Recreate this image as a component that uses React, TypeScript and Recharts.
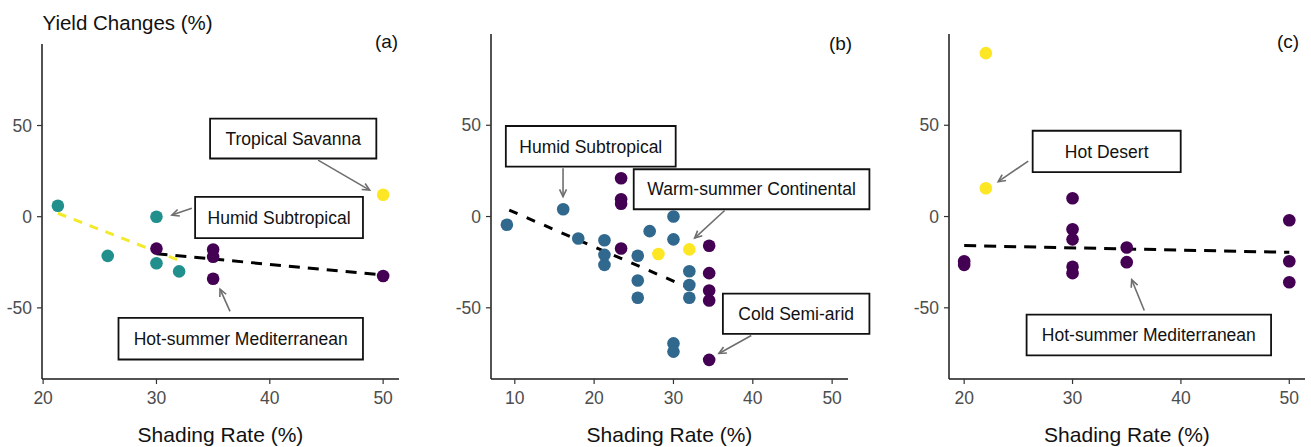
import React from 'react';
import { ComposedChart, Scatter, Line, XAxis, YAxis, ReferenceArea, ReferenceLine, Label } from 'recharts';

const FONT = '"Liberation Sans", Arial, Helvetica, sans-serif';
const PURPLE = '#440154';
const TEAL = '#21908C';
const BLUE = '#31688E';
const YELLOW = '#FDE725';

// ---------- Panel (a) data ----------
const aTeal = [
  { x: 21.3, y: 6 }, { x: 25.7, y: -21.5 }, { x: 30, y: 0 }, { x: 30, y: -25.5 }, { x: 32, y: -30 },
];
const aPurple = [
  { x: 30, y: -17.5 }, { x: 35, y: -18 }, { x: 35, y: -22 }, { x: 35, y: -34 }, { x: 50, y: -32.5 },
];
const aYellow = [{ x: 50, y: 12 }];
const aFitTeal = [{ x: 21.3, y: 1.9 }, { x: 31.9, y: -23.7 }];
const aFitPurple = [{ x: 30, y: -20.3 }, { x: 50, y: -32 }];

// ---------- Panel (b) data ----------
const bBlue = [
  { x: 9, y: -4.5 }, { x: 16.1, y: 4 }, { x: 18, y: -12 },
  { x: 21.3, y: -13 }, { x: 21.3, y: -21 }, { x: 21.3, y: -26.5 },
  { x: 25.5, y: -21.5 }, { x: 25.5, y: -35 }, { x: 25.5, y: -44.5 },
  { x: 27, y: -8 },
  { x: 30, y: 0 }, { x: 30, y: -12.5 }, { x: 30, y: -69.5 }, { x: 30, y: -74 },
  { x: 32, y: -30 }, { x: 32, y: -37.5 }, { x: 32, y: -44.5 },
];
const bPurple = [
  { x: 23.4, y: 21 }, { x: 23.4, y: 9.5 }, { x: 23.4, y: 7 }, { x: 23.4, y: -17.5 },
  { x: 34.5, y: -16 }, { x: 34.5, y: -31 }, { x: 34.5, y: -40.5 }, { x: 34.5, y: -46 }, { x: 34.5, y: -78.5 },
];
const bYellow = [{ x: 28.1, y: -20.5 }, { x: 32, y: -18 }];
const bFitBlue = [{ x: 9.3, y: 3.5 }, { x: 31.5, y: -38.2 }];

// ---------- Panel (c) data ----------
const cYellow = [{ x: 22, y: 89.5 }, { x: 22, y: 15.5 }];
const cPurple = [
  { x: 20, y: -24.5 }, { x: 20, y: -26.5 },
  { x: 30, y: 10 }, { x: 30, y: -7 }, { x: 30, y: -12.5 }, { x: 30, y: -27.5 }, { x: 30, y: -31 },
  { x: 35, y: -17 }, { x: 35, y: -25 },
  { x: 50, y: -2 }, { x: 50, y: -24.5 }, { x: 50, y: -36 },
];
const cFitPurple = [{ x: 20, y: -15.9 }, { x: 50, y: -19.6 }];

const yTicks = [-50, 0, 50];
const xTicksA = [20, 30, 40, 50];
const xTicksB = [10, 20, 30, 40, 50];
const xTicksC = [20, 30, 40, 50];

// ---------- annotations (data coordinates) ----------
const aBoxes = [
  { text: 'Tropical Savanna', x1: 34.73, x2: 49.4, y1: 31.9, y2: 53.8 },
  { text: 'Humid Subtropical', x1: 33.41, x2: 48.22, y1: -11.8, y2: 10.9 },
  { text: 'Hot-summer Mediterranean', x1: 26.65, x2: 48.22, y1: -78.3, y2: -55.5 },
];
const aArrows = [
  { from: { x: 44.26, y: 31.0 }, to: { x: 48.81, y: 14.6 } },
  { from: { x: 33.12, y: 4.6 }, to: { x: 31.36, y: 0.9 } },
  { from: { x: 36.49, y: -51.9 }, to: { x: 35.61, y: -39.7 } },
];
const bBoxes = [
  { text: 'Humid Subtropical', x1: 8.87, x2: 30.28, y1: 27.3, y2: 49.6 },
  { text: 'Warm-summer Continental', x1: 24.99, x2: 54.7, y1: 4.0, y2: 25.9 },
  { text: 'Cold Semi-arid', x1: 36.23, x2: 54.7, y1: -64.3, y2: -42.2 },
];
const bArrows = [
  { from: { x: 16.08, y: 26.4 }, to: { x: 16.08, y: 10.9 } },
  { from: { x: 36.45, y: 3.3 }, to: { x: 32.67, y: -11.8 } },
  { from: { x: 39.81, y: -65.2 }, to: { x: 35.73, y: -75.0 } },
];
const cBoxes = [
  { text: 'Hot Desert', x1: 26.32, x2: 39.98, y1: 24.3, y2: 47.0 },
  { text: 'Hot-summer Mediterranean', x1: 25.76, x2: 48.32, y1: -76.1, y2: -53.7 },
];
const cArrows = [
  { from: { x: 25.91, y: 30.4 }, to: { x: 23.14, y: 19.1 } },
  { from: { x: 36.62, y: -51.5 }, to: { x: 35.46, y: -34.6 } },
];

const dotShape = (color: string) => (props: any) => (
  <circle cx={props.cx} cy={props.cy} r={6.3} fill={color} />
);

const arrowShape = (props: any) => {
  const { x1, y1, x2, y2 } = props;
  const ang = Math.atan2(y2 - y1, x2 - x1);
  const L = 8;
  const a = Math.PI / 7;
  const p1x = x2 - L * Math.cos(ang - a);
  const p1y = y2 - L * Math.sin(ang - a);
  const p2x = x2 - L * Math.cos(ang + a);
  const p2y = y2 - L * Math.sin(ang + a);
  return (
    <g>
      <line x1={x1} y1={y1} x2={x2} y2={y2} stroke="#6e6e6e" strokeWidth={1.6} />
      <polyline points={`${p1x},${p1y} ${x2},${y2} ${p2x},${p2y}`} fill="none" stroke="#6e6e6e" strokeWidth={1.6} />
    </g>
  );
};

type Series = { data: { x: number; y: number }[]; color: string };
type Fit = { data: { x: number; y: number }[]; color: string; dash: string };

interface PanelProps {
  left: number;
  width: number;
  top: number;
  right: number;
  yWidth: number;
  xDomain: [number, number];
  yDomain: [number, number];
  xTicks: number[];
  series: Series[];
  fits: Fit[];
  boxes: { text: string; x1: number; x2: number; y1: number; y2: number }[];
  arrows: { from: { x: number; y: number }; to: { x: number; y: number } }[];
}

function Panel(p: PanelProps) {
  const tickStyle = { fill: '#4D4D4D', fontSize: 17.5, fontFamily: FONT };
  return (
    <div style={{ position: 'absolute', left: p.left, top: 0 }}>
      <ComposedChart
        width={p.width}
        height={447}
        margin={{ top: p.top, right: p.right, bottom: 0, left: 0 }}
        style={{ fontFamily: FONT }}
      >
        <XAxis
          type="number"
          dataKey="x"
          domain={p.xDomain}
          ticks={p.xTicks}
          allowDataOverflow
          height={68}
          tickSize={5}
          tickMargin={8}
          axisLine={{ stroke: '#1a1a1a', strokeWidth: 1.5 }}
          tickLine={{ stroke: '#333', strokeWidth: 1.2 }}
          tick={tickStyle}
        >
          <Label value="Shading Rate (%)" position="insideBottom" offset={5} fill="#111" fontSize={21} fontFamily={FONT} />
        </XAxis>
        <YAxis
          type="number"
          dataKey="y"
          domain={p.yDomain}
          ticks={yTicks}
          allowDataOverflow
          width={p.yWidth}
          tickSize={5}
          tickMargin={5}
          axisLine={{ stroke: '#1a1a1a', strokeWidth: 1.5 }}
          tickLine={{ stroke: '#333', strokeWidth: 1.2 }}
          tick={tickStyle}
        />
        {p.fits.map((f, i) => (
          <Line
            key={'fit' + i}
            data={f.data}
            dataKey="y"
            stroke={f.color}
            strokeWidth={3}
            strokeDasharray={f.dash}
            dot={false}
            activeDot={false}
            isAnimationActive={false}
            legendType="none"
          />
        ))}
        {p.series.map((s, i) => (
          <Scatter
            key={'s' + i}
            data={s.data}
            dataKey="y"
            fill={s.color}
            shape={dotShape(s.color)}
            isAnimationActive={false}
          />
        ))}
        {p.boxes.map((b, i) => (
          <ReferenceArea
            key={'b' + i}
            x1={b.x1}
            x2={b.x2}
            y1={b.y1}
            y2={b.y2}
            ifOverflow="visible"
            fill="#ffffff"
            fillOpacity={1}
            stroke="#111"
            strokeWidth={1.8}
            label={{ value: b.text, position: 'center', fill: '#111', fontSize: 17.5, fontFamily: FONT }}
          />
        ))}
        {p.arrows.map((a, i) => (
          <ReferenceLine
            key={'a' + i}
            segment={[a.from, a.to]}
            ifOverflow="visible"
            stroke="#6e6e6e"
            shape={arrowShape}
          />
        ))}
      </ComposedChart>
    </div>
  );
}

export default function App() {
  return (
    <div style={{ position: 'absolute', left: 0, top: 0, width: 1311, height: 447, background: '#fff', overflow: 'hidden' }}>
      <Panel
        left={0}
        width={410}
        top={44}
        right={11}
        yWidth={42}
        xDomain={[19.9, 51.4]}
        yDomain={[-89, 94.7]}
        xTicks={xTicksA}
        series={[
          { data: aTeal, color: TEAL },
          { data: aPurple, color: PURPLE },
          { data: aYellow, color: YELLOW },
        ]}
        fits={[
          { data: aFitTeal, color: '#F2EA2A', dash: '9 8' },
          { data: aFitPurple, color: '#000', dash: '11 8' },
        ]}
        boxes={aBoxes}
        arrows={aArrows}
      />
      <Panel
        left={440}
        width={440}
        top={34}
        right={32}
        yWidth={51}
        xDomain={[7, 52]}
        yDomain={[-89, 100]}
        xTicks={xTicksB}
        series={[
          { data: bBlue, color: BLUE },
          { data: bPurple, color: PURPLE },
          { data: bYellow, color: YELLOW },
        ]}
        fits={[{ data: bFitBlue, color: '#000', dash: '9 10' }]}
        boxes={bBoxes}
        arrows={bArrows}
      />
      <Panel
        left={900}
        width={411}
        top={34}
        right={6}
        yWidth={49}
        xDomain={[18.6, 51.45]}
        yDomain={[-89, 100]}
        xTicks={xTicksC}
        series={[
          { data: cYellow, color: YELLOW },
          { data: cPurple, color: PURPLE },
        ]}
        fits={[{ data: cFitPurple, color: '#000', dash: '12 8' }]}
        boxes={cBoxes}
        arrows={cArrows}
      />
      <svg width={1311} height={447} style={{ position: 'absolute', left: 0, top: 0, pointerEvents: 'none' }}>
        <text x={42.5} y={30} fontSize={20.5} fill="#111" fontFamily={FONT}>Yield Changes (%)</text>
        <text x={386.5} y={48} fontSize={19} fill="#111" fontFamily={FONT} textAnchor="middle">(a)</text>
        <text x={840.5} y={49.5} fontSize={19} fill="#111" fontFamily={FONT} textAnchor="middle">(b)</text>
        <text x={1288} y={48} fontSize={19} fill="#111" fontFamily={FONT} textAnchor="middle">(c)</text>
      </svg>
    </div>
  );
}
